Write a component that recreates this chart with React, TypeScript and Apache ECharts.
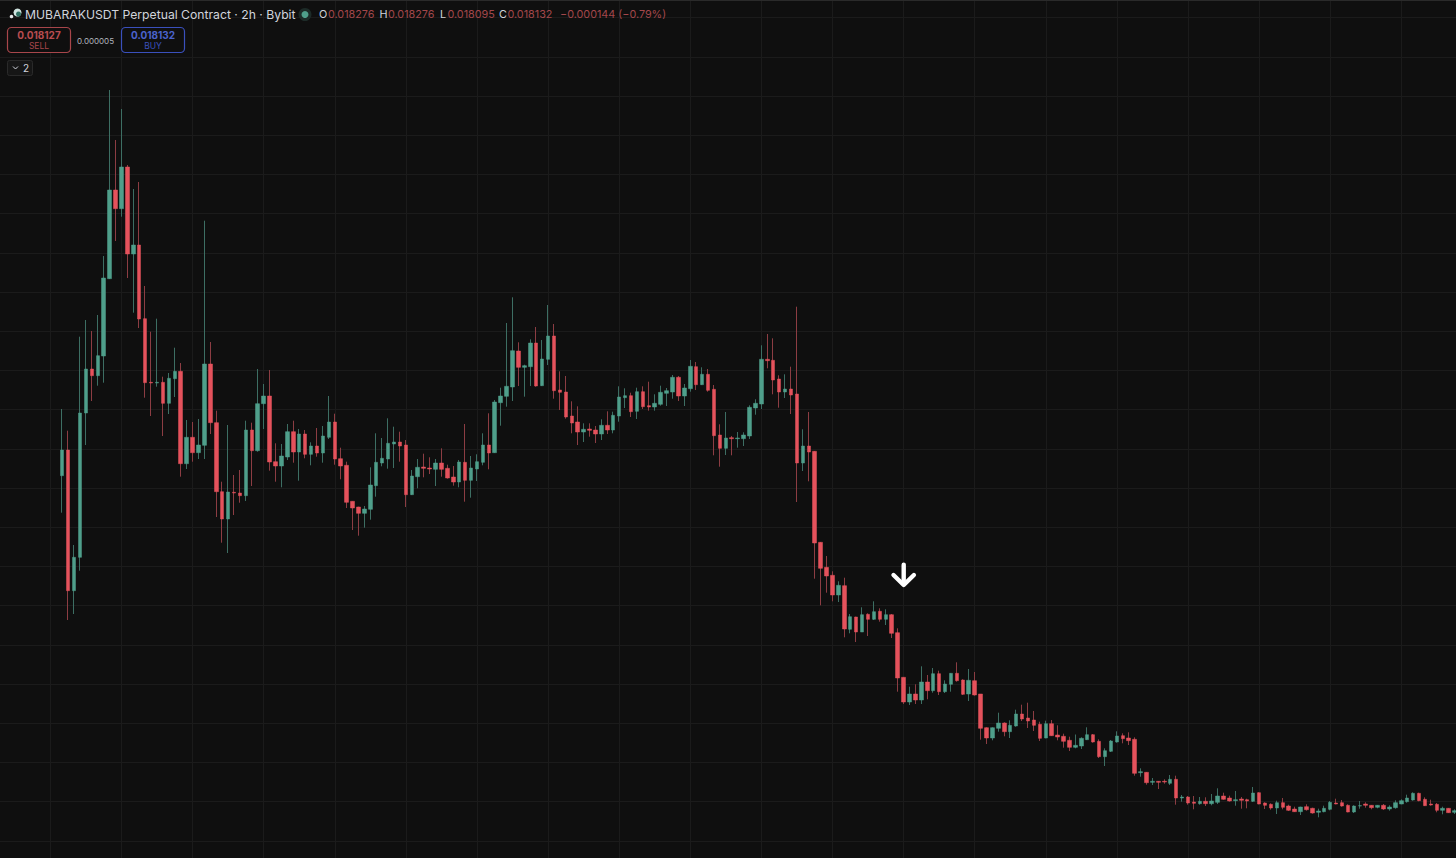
import React, { useEffect, useRef } from "react";
import * as echarts from "echarts";

// Every row is [open, close, low, high], in price ticks; one tick is TICK_SIZE USDT.
const TICK_SIZE = 0.01 / 39.2;
const GRID_STEP = 0.01;
const LEAD_IN_BARS = 10;
const GRID_EVERY_BARS = 12;

const launchSpike: number[][] = [
  [404.3,430,367.3,471],[430,289.3,260,449.3],[289.3,322.7,266,335],[322.7,467,309.3,543.3],[467,511,435,560],
  [511,504.3,479,549],[504.3,524.3,494.3,565],[524,602,497.3,624],[601.3,690,601,790],[690,671.3,639,740],
  [671.3,713,663.3,771],[713,626,602,715],[626,635,567.3,691],[635,561,552,698],[561.3,497.3,482.3,594],
  [497.7,497,464,548.3],[497,497.7,493.3,561.3],[497.7,476.7,444,503.3],[476.7,501.7,466,507],[501.3,508.7,483,532.3],
  [508.7,416.3,403.3,517],[416.3,442.7,411,460],[442.7,427.3,418.3,458],[427.3,435,421,461],[434.7,516,421,659.3],
  [516,457.3,446,538],[457.3,388.3,363,469.3],[388.3,361,337.3,398.3],[361,388,327,455],[387.7,387,365,405],
];
const firstRange: number[][] = [
  [387,384.3,377.3,410],[384.3,450,379,459.3],[450,429.3,394,457.3],[429.3,476.3,428.3,511],[476.3,484,451,496],
  [484,418,409.3,510],[418.3,414,398.3,436.7],[414,424,392.7,436],[423,448.3,420,456],[448.3,428,417.3,459.3],
  [428,446,399.3,451],[446,425.7,421.7,450],[425.7,434,414.7,437.7],[434,427,423.3,452],[427,444,417.3,454],
  [442.7,458,441,484],[458,421,415.3,466.3],[421.3,414,400.7,432.3],[414.7,377.7,372,418.3],[378.7,372,350,378.7],
  [373,366.7,344.3,373.3],[366.7,371,352.3,374],[370.7,395,360.3,412.7],[394.3,417.7,383.3,446.7],[417,421.7,413.7,442],
  [421,436.7,411.3,461.7],[436,438,412,453.3],[438,434,418.3,448.3],[435,385.3,373,440],[385.3,404,385,410],
  [403.3,412.7,391.7,421],[413,411.7,402.7,426.3],[412,411,406,422.7],[410.7,417,394,421],[417,410.7,403.3,431.7],
  [411.7,402,401.3,415.3],[403,398,394.3,414],[398,418,392.7,420],[417.7,399.7,378.3,456],[399.7,412,382.3,424],
  [411,418.3,399,425.7],[417.7,435,414.7,446.7],[435,427,410.7,466.7],
];
const secondHump: number[][] = [
  [427.3,478,427,480],[477.3,484,454.3,492.3],[483.7,493.7,473.3,557],[493,529.3,479,582.7],[529,512.7,494,537.7],
  [512.7,514.3,483.3,515.3],[513.3,537,494,540.7],[537,494,493.3,553],[494.3,521,494,540],[520.7,544,515,575],
  [544,489.3,481.3,556],[490,487.7,470,508.7],[488,463,461.3,504],[464,457,446.7,478.7],[458,448,435,473.7],
  [448,450.7,438,456.7],[451,449.7,443.3,456.7],[450,446,437,454],[446,454.7,440,460.7],[454.7,450,446,468.7],
  [450,464.7,446.7,468.3],[464,483,458.3,493.7],[482.3,484.3,472,491.7],[484.3,468.3,463,487.3],[468.7,488.3,461,492.3],
  [488.3,473.3,471,493.7],[474.3,473,469.3,498.3],[473,476.7,469.3,485.7],[475.7,487.7,474.3,494.3],[486.7,489.3,474,492],
  [488,502.7,481.3,505],[502.7,484,479,504],[484,492,474,496],[491.3,513.7,488.3,520],[513.3,495.3,490,518],
  [495.3,505.7,495,512.7],[505.7,489.7,488.3,511],[490.7,444.3,424.7,495],[445,431.7,413.3,455.7],[431.7,442,425,468],
  [442.3,441.3,424.7,444],[441.3,442,432.3,448],[441.3,445,434,447.7],[444,472.7,441,474.7],[472,476.7,465.3,480.7],
  [476,520.7,471,534.7],[520.7,519.3,511.7,546],[519.7,500,485.7,541.7],[501,488,472.3,504.7],[488,491,482,505.7],
  [491,485,466,513.3],
];
const breakdown: number[][] = [
  [486,417,378,573.3],[417,434,409,450.7],[434,428,398.7,468],[428.7,337,301.3,429],[337.7,311.7,274.7,338],
  [312.7,304,287.3,324],[304.7,285,278.7,308.7],[285,294.7,278,298.7],[294.3,251,242.7,302.3],[250.7,263.3,246.7,266],
  [263,248,238,263.3],[248,265.3,248,272.7],[265.7,260.7,244,266.7],[260.7,268.3,260,278.7],[268.7,260.7,258.3,271.7],
  [260.7,265.3,255,270.7],[265.3,246.7,242,266],[247.3,202,188.3,251.7],[202.7,178,176,202.7],
];
const lowerShelf: number[][] = [
  [178,186,175,193.3],[186,180,176,195.7],[180,198,176,213.7],[198,189.3,180.7,205],[189.3,206.3,187.3,212],
  [206.3,188.3,185,209.3],[188.3,196,187,199.7],[195.7,206.7,188.3,206.7],[206.7,199.3,198.3,217.7],[200,185.7,185,200.7],
  [186,199.7,179,211],[199.3,185,184.3,208],[186,151.7,140.3,186],[152.3,142,136,152.7],[142,152.3,139.7,152.7],
  [151.7,157,148.3,167.3],[157,148.3,143.7,157.7],[148.3,154.7,142,159.7],[154,166,153.3,170.3],[166,161,159,175.3],
  [162,159,152,177.3],[160,154.7,149,169],[155.7,141.7,139,158.3],[142,156.3,141.7,159.3],[156.3,144.3,144,160],
  [145,143,139.7,154.7],[143.7,138.7,132.3,146.3],[139.7,132.7,129,143.3],[132.7,134.7,131.7,145.5],[134,141.7,131,142.7],
  [140.3,145.3,140,152.7],[145.3,138,137.3,146],[138.7,123.3,122,140.7],[123.3,129.3,114,131.7],[128.7,139,128,140],
  [138,144,137.3,148.7],[144.3,141.3,136.7,146.7],[142,139.3,135,147.7],[140.7,106.7,104.3,142.7],
];
const finalDrift: number[][] = [
  [107.3,108.3,103.3,111.7],[107.7,97.3,95.3,108],[97.7,98.7,95,102],[98.7,97.7,91,99],[98.7,98,96.3,100.7],
  [96.7,100.7,95,105],[100.7,82,75.3,104.3],[82,83,78.3,85],[83,77,75.3,84],[78,76.7,70.7,84],
  [76.3,78.7,75.3,83],[78.7,76.3,74,82.7],[76.3,79,74.7,86],[77.7,84,76,91.7],[84,80.7,80.3,87.3],
  [82,79,78.3,84.3],[79.3,80.3,74.3,89],[81,79.7,71.3,83],[80.3,79,71.7,81.3],[78.7,87,78,93],
  [87.3,76,75.7,87.7],[77,74.7,71,77.7],[75.7,72,70.3,76.7],[72,77.3,66,79.3],[77.3,72.7,70.7,82],
  [74,69.7,69,75.3],[71,68.3,68,73.3],[68.3,73,65,73.3],[73.3,70.3,69.3,75.7],[71.7,67,66.3,72.3],
  [67.7,69,62.7,71.3],[68.3,71.7,67.7,74.3],[70.7,77.7,69.7,79],[77,76,75.7,81.3],[77.3,74,73.3,80],
  [74.7,68,67.7,75.7],[68,74,67,74.7],[74,74.3,71.3,79],[76,74.7,72.3,77.7],[74.7,72.3,70.7,75],
  [72.7,74.7,71.7,75],[74.7,71,70,76],[71,73,69.3,74.7],[72.3,77.3,71.3,79.7],[76,79.3,75.7,80.7],
  [78.3,82,77.3,85.3],[80,86.7,79.3,87.7],[86.7,79.3,78.7,87.3],[80.7,74.3,74,82.7],[76,75,74.3,80.3],
  [75.7,69.7,67.7,77],[69.7,71.7,65.7,73.3],[71.7,67.3,67,72],[67.7,69.3,66,70.7],
];

const candleRows = [...launchSpike, ...firstRange, ...secondHump, ...breakdown, ...lowerShelf, ...finalDrift];

const TITLE = "MUBARAKUSDT Perpetual Contract · 2h · Bybit";
const ohlcLabels = ["O", "H", "L", "C"];
const ohlcValues = ["0.018276", "0.018276", "0.018095", "0.018132"];
const CHANGE = "−0.000144 (−0.79%)";
const SELL_PRICE = "0.018127";
const BUY_PRICE = "0.018132";
const SPREAD = "0.000005";
const FONT = "Inter, Roboto, sans-serif";

const BG = "#0f0f0f";
const GRID = "#1b1b1b";
const UP = "#4f9f8b";
const DOWN = "#e5525c";
const UP_WICK = "#3d6e63";
const DOWN_WICK = "#8c3d43";
const DIM_RED = "#a3474b";
const TEXT = "#d1d4dc";

const ohlcX = [[319, 328], [379.5, 388], [440, 447.5], [499, 507.5]];

const App = () => {
  const ref = useRef<HTMLDivElement>(null);
  useEffect(() => {
    document.body.style.margin = "0";
    document.body.style.background = BG;
    const chart = echarts.init(ref.current!, undefined, { renderer: "svg" });
    const prices = candleRows.map((r) => r.map((v) => v * TICK_SIZE));
    const blanks = Array.from({ length: LEAD_IN_BARS }, () => ["-", "-", "-", "-"]);
    const categories = Array.from({ length: LEAD_IN_BARS + prices.length }, (_, i) => `bar ${i - LEAD_IN_BARS}`);
    const bodies = prices.map(([o, c]) => [o, c, Math.min(o, c), Math.max(o, c)]);
    const headerTexts: any[] = [];
    ohlcLabels.forEach((label, i) => {
      headerTexts.push({ type: "text", x: ohlcX[i][0], y: 14.5, style: { text: label, fill: TEXT, font: `10.8px ${FONT}`, verticalAlign: "middle" } });
      headerTexts.push({ type: "text", x: ohlcX[i][1], y: 14.5, style: { text: ohlcValues[i], fill: DIM_RED, font: `10.8px ${FONT}`, verticalAlign: "middle" } });
    });
    const overlays: any[] = [
      { type: "rect", shape: { x: 0, y: 0, width: 1456, height: 1 }, style: { fill: "#2a2a2a" } },
      // symbol logo
      { type: "circle", shape: { cx: 17.5, cy: 12.5, r: 4 }, style: { fill: "#cfe3df" } },
      { type: "circle", shape: { cx: 18.5, cy: 14, r: 2.5 }, style: { fill: "#2f6f62" } },
      { type: "circle", shape: { cx: 11.5, cy: 16.5, r: 1.8 }, style: { fill: "#e8eaed" } },
      { type: "text", x: 25, y: 14.5, style: { text: TITLE, fill: TEXT, font: `12.2px ${FONT}`, verticalAlign: "middle" } },
      { type: "circle", shape: { cx: 305, cy: 14.5, r: 6.5 }, style: { fill: "#1d2b28" } },
      { type: "circle", shape: { cx: 305, cy: 14.5, r: 3.5 }, style: { fill: "#4f9f8b" } },
      ...headerTexts,
      { type: "text", x: 560, y: 14.5, style: { text: CHANGE, fill: DIM_RED, font: `10.8px ${FONT}`, verticalAlign: "middle" } },
      // sell / buy boxes
      { type: "rect", shape: { x: 7.5, y: 27.5, width: 63, height: 25, r: 4 }, style: { fill: BG, stroke: "#a8464b", lineWidth: 1.2 } },
      { type: "text", x: 39, y: 34.5, style: { text: SELL_PRICE, fill: "#b84c50", font: `bold 10px ${FONT}`, align: "center", verticalAlign: "middle" } },
      { type: "text", x: 39, y: 46, style: { text: "SELL", fill: "#a8464b", font: `8.5px ${FONT}`, align: "center", verticalAlign: "middle" } },
      { type: "text", x: 95.5, y: 40.5, style: { text: SPREAD, fill: "#b2b5be", font: `8px ${FONT}`, align: "center", verticalAlign: "middle" } },
      { type: "rect", shape: { x: 121.5, y: 27.5, width: 63, height: 25, r: 4 }, style: { fill: BG, stroke: "#3a50bd", lineWidth: 1.2 } },
      { type: "text", x: 153, y: 34.5, style: { text: BUY_PRICE, fill: "#4a62cc", font: `bold 10px ${FONT}`, align: "center", verticalAlign: "middle" } },
      { type: "text", x: 153, y: 46, style: { text: "BUY", fill: "#3a50bd", font: `8.5px ${FONT}`, align: "center", verticalAlign: "middle" } },
      // collapsed indicators
      { type: "rect", shape: { x: 7.5, y: 60.5, width: 25, height: 15, r: 2 }, style: { fill: "#161616", stroke: "#2a2a2a", lineWidth: 1 } },
      { type: "polyline", shape: { points: [[13, 66.5], [15.5, 69], [18, 66.5]] }, style: { fill: "none", stroke: TEXT, lineWidth: 1 } },
      { type: "text", x: 26, y: 68, style: { text: "2", fill: TEXT, font: `10px ${FONT}`, align: "center", verticalAlign: "middle" } },
      // arrow annotation
      { type: "rect", shape: { x: 901.5, y: 562.5, width: 4.4, height: 23, r: 2.2 }, style: { fill: "#ffffff" } },
      { type: "polyline", shape: { points: [[893.5, 575], [903.7, 585], [913.9, 575]] }, style: { fill: "none", stroke: "#ffffff", lineWidth: 4.4, lineCap: "round", lineJoin: "round" } },
    ];
    chart.setOption({
      animation: false,
      backgroundColor: BG,
      grid: { left: 0, top: -21.6, width: 246 * 5.925, height: 901.6, containLabel: false, outerBoundsMode: "none" },
      xAxis: {
        type: "category",
        data: categories,
        boundaryGap: true,
        axisLine: { show: false },
        axisTick: { show: false },
        axisLabel: { show: false },
        splitLine: {
          show: true,
          alignWithLabel: true,
          interval: (index: number) => (index - LEAD_IN_BARS - 10) % GRID_EVERY_BARS === 0,
          lineStyle: { color: GRID, width: 1 },
        },
      },
      yAxis: {
        type: "value",
        min: 0,
        max: 0.23,
        interval: GRID_STEP,
        axisLine: { show: false },
        axisTick: { show: false },
        axisLabel: { show: false },
        splitLine: { show: true, lineStyle: { color: GRID, width: 1 } },
      },
      series: [
        {
          type: "candlestick",
          data: [...blanks, ...prices],
          barWidth: 1,
          itemStyle: { color: UP_WICK, color0: DOWN_WICK, borderColor: UP_WICK, borderColor0: DOWN_WICK, borderWidth: 1 },
        },
        {
          type: "candlestick",
          data: [...blanks, ...bodies],
          barWidth: 4,
          itemStyle: { color: UP, color0: DOWN, borderColor: UP, borderColor0: DOWN, borderWidth: 0.5 },
        },
      ],
      graphic: overlays.map((el, i) => ({ ...el, z: 100 + i })),
    });
    return () => chart.dispose();
  }, []);
  return <div ref={ref} style={{ width: 1456, height: 858, overflow: "hidden" }} />;
};

export default App;
